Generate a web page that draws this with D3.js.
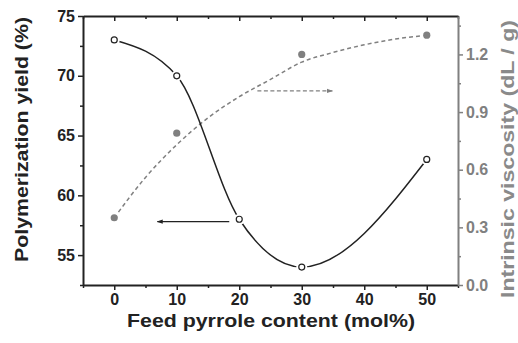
<!DOCTYPE html>
<html>
<head>
<meta charset="utf-8">
<script src="https://cdn.jsdelivr.net/npm/d3@7/dist/d3.min.js"></script>
<style>
  html, body { margin: 0; padding: 0; background: #fff; }
  svg { display: block; }
  text { font-family: "Liberation Sans", Arial, sans-serif; font-weight: bold; }
</style>
</head>
<body>
<svg id="chart" width="518" height="343"></svg>
<script>
// Feed pyrrole content (mol%)
const feed = [0, 10, 20, 30, 50];
// Polymerization yield (%)
const yieldPct = [73, 70, 58, 54, 63];
// Intrinsic viscosity (dL/g)
const viscFeed = [0, 10, 30, 50];
const viscosity = [0.35, 0.79, 1.20, 1.30];
// Trend line for viscosity (fitted values)
const trendFeed = [0, 5, 10, 15, 20, 25, 30, 35, 40, 45, 50];
const trendVisc = [0.35, 0.56, 0.73, 0.87, 0.98, 1.07, 1.16, 1.21, 1.25, 1.28, 1.30];

const xTicks = [0, 10, 20, 30, 40, 50];
const xMinor = [-5, 5, 15, 25, 35, 45, 55];
const yLeftTicks = [55, 60, 65, 70, 75];
const yLeftMinor = [52.5, 57.5, 62.5, 67.5, 72.5];
const yRightTicks = [0.0, 0.3, 0.6, 0.9, 1.2];
const yRightMinor = [0.15, 0.45, 0.75, 1.05, 1.35];

const svg = d3.select("#chart");
const L = 83, R = 458, T = 16, B = 285;
const INK = "#222";
const GRAY = "#808080";
const LABEL_GRAY = "#8a8a8a";

const x = d3.scaleLinear().domain([-5, 55]).range([L, R]);
const yL = d3.scaleLinear().domain([52.5, 75]).range([B, T]);
const yR = d3.scaleLinear().domain([0, 1.4]).range([B, T]);

// Viscosity trend (dashed, gray)
svg.append("path")
  .datum(trendFeed.map((f, i) => [f, trendVisc[i]]))
  .attr("fill", "none").attr("stroke", GRAY).attr("stroke-width", 1.5)
  .attr("stroke-dasharray", "4,3")
  .attr("d", d3.line().x(d => x(d[0])).y(d => yR(d[1])).curve(d3.curveMonotoneX));

// Yield curve (solid, black)
svg.append("path")
  .datum(feed.map((f, i) => [f, yieldPct[i]]))
  .attr("fill", "none").attr("stroke", INK).attr("stroke-width", 1.5)
  .attr("d", d3.line().x(d => x(d[0])).y(d => yL(d[1])).curve(d3.curveMonotoneX));

// Arrows pointing to each series' axis
const defs = svg.append("defs");
[["headL", INK], ["headR", GRAY]].forEach(([id, col]) => {
  defs.append("marker").attr("id", id).attr("viewBox", "0 0 10 10")
    .attr("refX", 9).attr("refY", 5).attr("markerWidth", 5).attr("markerHeight", 5)
    .attr("orient", "auto")
    .append("path").attr("d", "M0,1.5 L10,5 L0,8.5 Z").attr("fill", col);
});

svg.append("line")
  .attr("x1", x(18.4)).attr("x2", x(6.9)).attr("y1", yL(57.8)).attr("y2", yL(57.8))
  .attr("stroke", INK).attr("stroke-width", 1.2).attr("marker-end", "url(#headL)");
svg.append("line")
  .attr("x1", x(22.9)).attr("x2", x(34.9)).attr("y1", yR(1.01)).attr("y2", yR(1.01))
  .attr("stroke", GRAY).attr("stroke-width", 1.2).attr("stroke-dasharray", "4,2.5")
  .attr("marker-end", "url(#headR)");

// Markers with a white halo so the lines stop short of them
const viscPts = viscFeed.map((f, i) => [f, viscosity[i]]);
const yieldPts = feed.map((f, i) => [f, yieldPct[i]]);
svg.append("g").selectAll("circle").data(viscPts)
  .join("circle").attr("cx", d => x(d[0])).attr("cy", d => yR(d[1])).attr("r", 5.5)
  .attr("fill", "#fff");
svg.append("g").selectAll("circle").data(viscPts)
  .join("circle").attr("cx", d => x(d[0])).attr("cy", d => yR(d[1])).attr("r", 3.6)
  .attr("fill", GRAY);
svg.append("g").selectAll("circle").data(yieldPts)
  .join("circle").attr("cx", d => x(d[0])).attr("cy", d => yL(d[1])).attr("r", 5.5)
  .attr("fill", "#fff");
svg.append("g").selectAll("circle").data(yieldPts)
  .join("circle").attr("cx", d => x(d[0])).attr("cy", d => yL(d[1])).attr("r", 3)
  .attr("fill", "#fff").attr("stroke", INK).attr("stroke-width", 1.2);

// Axes
function styleAxis(g, color, width) {
  g.select(".domain").attr("stroke", color).attr("stroke-width", width);
  g.selectAll(".tick line").attr("stroke", color).attr("stroke-width", 1.5);
  g.selectAll(".tick text").attr("fill", color).style("font-size", "16px")
    .style("font-family", "'Liberation Sans', Arial, sans-serif").style("font-weight", "bold");
}
function minorTicks(axis, transform, color) {
  const g = svg.append("g").attr("transform", transform)
    .call(axis.tickSize(3).tickFormat("").tickSizeOuter(0));
  g.select(".domain").remove();
  g.selectAll(".tick line").attr("stroke", color).attr("stroke-width", 1.5);
}

// Bottom
minorTicks(d3.axisBottom(x).tickValues(xMinor), `translate(0,${B})`, INK);
const gx = svg.append("g").attr("transform", `translate(0,${B})`)
  .call(d3.axisBottom(x).tickValues(xTicks).tickSize(5).tickSizeOuter(0).tickPadding(4));
styleAxis(gx, INK, 2);

// Top (ticks inward)
minorTicks(d3.axisBottom(x).tickValues(xMinor), `translate(0,${T})`, INK);
const gt = svg.append("g").attr("transform", `translate(0,${T})`)
  .call(d3.axisBottom(x).tickValues(xTicks).tickSize(5).tickFormat("").tickSizeOuter(0));
styleAxis(gt, INK, 2);

// Left
minorTicks(d3.axisLeft(yL).tickValues(yLeftMinor), `translate(${L},0)`, INK);
const gl = svg.append("g").attr("transform", `translate(${L},0)`)
  .call(d3.axisLeft(yL).tickValues(yLeftTicks).tickSize(5).tickSizeOuter(0).tickPadding(3));
styleAxis(gl, INK, 2);

// Right (gray)
minorTicks(d3.axisRight(yR).tickValues(yRightMinor), `translate(${R},0)`, GRAY);
const gr = svg.append("g").attr("transform", `translate(${R},0)`)
  .call(d3.axisRight(yR).tickValues(yRightTicks).tickSize(5).tickSizeOuter(0).tickPadding(3)
    .tickFormat(d3.format(".1f")));
styleAxis(gr, GRAY, 2);

// Axis titles
svg.append("text").attr("x", 271).attr("y", 327).attr("text-anchor", "middle")
  .style("font-size", "19px").attr("fill", INK)
  .attr("textLength", 288).attr("lengthAdjust", "spacingAndGlyphs")
  .text("Feed pyrrole content (mol%)");
svg.append("text").attr("transform", "translate(27.5,139.5) rotate(-90)")
  .attr("text-anchor", "middle").style("font-size", "18px").attr("fill", INK)
  .attr("textLength", 245).attr("lengthAdjust", "spacingAndGlyphs")
  .text("Polymerization yield (%)");
svg.append("text").attr("transform", "translate(514,159) rotate(-90)")
  .attr("text-anchor", "middle").style("font-size", "18px").attr("fill", LABEL_GRAY)
  .attr("textLength", 278).attr("lengthAdjust", "spacingAndGlyphs")
  .text("Intrinsic viscosity (dL / g)");
</script>
</body>
</html>
